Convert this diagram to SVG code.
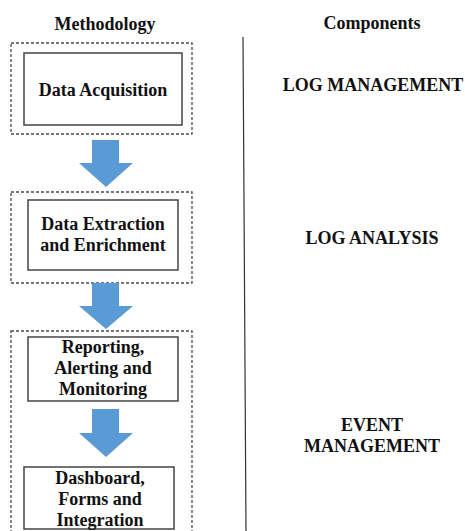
<svg xmlns="http://www.w3.org/2000/svg" width="465" height="531" viewBox="0 0 465 531">
  <style>
    text { font-family: "Liberation Serif", "Times New Roman", serif; font-weight: bold; font-size: 18px; fill: #111; }
    .mid { text-anchor: middle; }
    .stage { fill: none; stroke: #4a4a4a; stroke-width: 1.3; stroke-dasharray: 3 2; }
    .step { fill: #fff; stroke: #444; stroke-width: 1.5; }
    .flow { fill: #5B9BD5; }
  </style>
  <rect width="465" height="531" fill="#fff"/>

  <!-- column headings -->
  <text class="mid" x="105" y="30">Methodology</text>
  <text class="mid" x="372" y="29">Components</text>

  <!-- divider -->
  <line x1="243" y1="37" x2="246" y2="531" stroke="#333" stroke-width="1.2"/>

  <!-- stage frames -->
  <rect class="stage" x="11" y="43" width="181" height="91"/>
  <rect class="stage" x="11" y="192" width="181" height="91"/>
  <rect class="stage" x="11" y="331" width="181" height="215"/>

  <g id="data-acquisition">
    <rect class="step" x="24" y="53" width="158" height="72"/>
    <text class="mid" x="103" y="96">Data Acquisition</text>
  </g>

  <g id="data-extraction">
    <rect class="step" x="28" y="200" width="150" height="70"/>
    <text class="mid" x="103" y="230">Data Extraction</text>
    <text class="mid" x="103" y="251">and Enrichment</text>
  </g>

  <g id="reporting">
    <rect class="step" x="28" y="337" width="150" height="64"/>
    <text class="mid" x="103" y="353">Reporting,</text>
    <text class="mid" x="103" y="374">Alerting and</text>
    <text class="mid" x="103" y="395">Monitoring</text>
  </g>

  <g id="dashboard">
    <rect class="step" x="24" y="467" width="150" height="62"/>
    <text class="mid" x="100" y="484">Dashboard,</text>
    <text class="mid" x="100" y="505">Forms and</text>
    <text class="mid" x="100" y="526">Integration</text>
  </g>

  <g id="connectors">
    <polygon class="flow" points="92,140 119,140 119,163 133,163 106,187 79,163 92,163"/>
    <polygon class="flow" points="92,283 119,283 119,306 133,306 106,329 79,306 92,306"/>
    <polygon class="flow" points="92,409 119,409 119,433 133,433 106,457 79,433 92,433"/>
  </g>

  <g id="log-management">
    <text class="mid" x="373" y="91">LOG MANAGEMENT</text>
  </g>
  <g id="log-analysis">
    <text class="mid" x="372" y="244">LOG ANALYSIS</text>
  </g>
  <g id="event-management">
    <text class="mid" x="372" y="431">EVENT</text>
    <text class="mid" x="372" y="452">MANAGEMENT</text>
  </g>
</svg>
